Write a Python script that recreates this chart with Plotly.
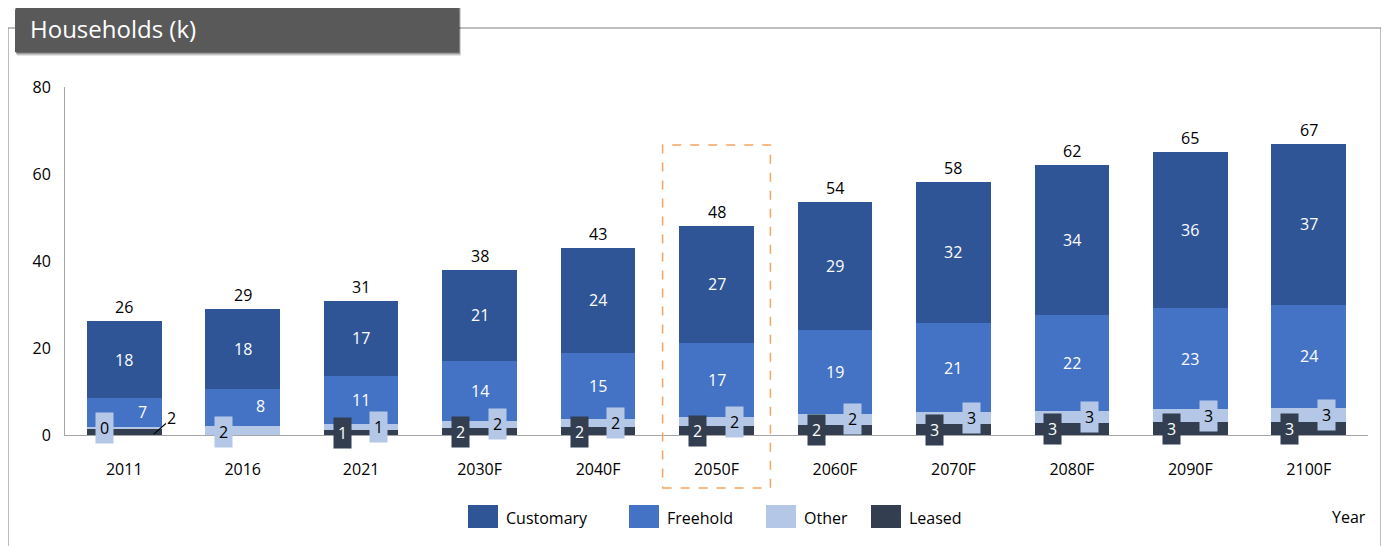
import plotly.graph_objects as go

categories = ["2011", "2016", "2021", "2030F", "2040F", "2050F", "2060F", "2070F", "2080F", "2090F", "2100F"]
leased    = [1.5, 0.0, 1.2, 1.6, 1.8, 2.0, 2.4, 2.6, 2.8, 2.9, 3.0]
other     = [0.3, 2.1, 1.3, 1.7, 1.9, 2.2, 2.4, 2.6, 2.8, 3.0, 3.1]
freehold  = [6.6, 8.4, 11.0, 13.8, 15.2, 17.0, 19.4, 20.6, 22.0, 23.2, 23.9]
customary = [17.7, 18.4, 17.4, 20.8, 24.2, 26.8, 29.4, 32.4, 34.4, 35.9, 36.9]
yticks = [0, 20, 40, 60, 80]
highlight = "2050F"

C_CUST = "#2f5597"
C_FREE = "#4472c4"
C_OTH = "#b4c7e7"
C_LEAS = "#333f50"
FONT = "Open Sans"

OFF = 8  # page body margin
W, H = 1389 - OFF, 546 - OFF
L, R, T, B = 65 - OFF, 1368 - OFF, 87 - OFF, 435 - OFF
def px(x): return (x - OFF - L) / (R - L)
def py(y): return (B - (y - OFF)) / (B - T)

fig = go.Figure()
for name, vals, col in [("Leased", leased, C_LEAS), ("Other", other, C_OTH),
                        ("Freehold", freehold, C_FREE), ("Customary", customary, C_CUST)]:
    fig.add_trace(go.Bar(x=categories, y=vals, name=name, marker=dict(color=col, line=dict(width=0)),
                         width=0.63, showlegend=False, hoverinfo="skip"))

ann = []
n = len(categories)
for i, c in enumerate(categories):
    lb = leased[i]
    ob = lb + other[i]
    fb = ob + freehold[i]
    tot = fb + customary[i]
    ann.append(dict(x=i, y=tot, text=f"{tot:.0f}", showarrow=False, yanchor="bottom", yshift=1,
                    font=dict(size=16, color="#000000")))
    ann.append(dict(x=i, y=(fb + tot) / 2, text=f"{customary[i]:.0f}", showarrow=False,
                    font=dict(size=16, color="white")))
    fx = i + 0.15 if i < 2 else i
    ann.append(dict(x=fx, y=(ob + fb) / 2 + (0.3 if i < 2 else 0), text=f"{freehold[i]:.0f}", showarrow=False,
                    font=dict(size=16, color="white")))
    if i == 0:
        ann.append(dict(x=i - 0.17, y=1.6, text=f"{other[i]:.0f}", showarrow=False, bgcolor=C_OTH,
                        borderpad=4, font=dict(size=16, color="#000000")))
        ann.append(dict(x=i + 0.25, y=0.2, text=f"{lb:.0f}", showarrow=True, arrowhead=0, arrowwidth=1.2,
                        arrowcolor="#000000", ax=18, ay=-16, font=dict(size=16, color="#000000")))
        continue
    if i == 1:
        ann.append(dict(x=i - 0.16, y=0.7, text=f"{other[i]:.0f}", showarrow=False, bgcolor=C_OTH,
                        borderpad=4, font=dict(size=16, color="#000000")))
        continue
    ann.append(dict(x=i - 0.16, y=lb / 2 - 0.1, text=f"{lb:.0f}", showarrow=False, bgcolor=C_LEAS,
                    borderpad=4, font=dict(size=16, color="white")))
    ann.append(dict(x=i + 0.15, y=(lb + ob) / 2, text=f"{other[i]:.0f}", showarrow=False, bgcolor=C_OTH,
                    borderpad=4, font=dict(size=16, color="#000000")))

ann.append(dict(xref="paper", yref="paper", x=px(28), y=py(29), text="Households (k)", showarrow=False,
                xanchor="left", yanchor="middle", font=dict(size=24, color="white")))
ann.append(dict(xref="paper", yref="paper", x=px(1349), y=py(517), text="Year", showarrow=False,
                xanchor="center", yanchor="middle", font=dict(size=16, color="#000000")))

shapes = []
shapes.append(dict(type="rect", xref="paper", yref="paper", x0=px(8), x1=px(1381), y0=py(560), y1=py(28),
                   line=dict(color="#7f7f7f", width=1), fillcolor="rgba(0,0,0,0)", layer="below"))
for k, a in [(4, 0.10), (3, 0.15), (2, 0.2), (1, 0.3)]:
    shapes.append(dict(type="rect", xref="paper", yref="paper", x0=px(15 + k / 2), x1=px(459 + k / 2),
                       y0=py(52 + k), y1=py(8), line=dict(width=0), fillcolor=f"rgba(0,0,0,{a})"))
x0, x1, y0, y1, r = 15, 459, 5, 52, 7
path = (f"M {px(x0)},{py(y1)} L {px(x0)},{py(y0 + r)} Q {px(x0)},{py(y0)} {px(x0 + r)},{py(y0)} "
        f"L {px(x1 - r)},{py(y0)} Q {px(x1)},{py(y0)} {px(x1)},{py(y0 + r)} L {px(x1)},{py(y1)} Z")
shapes.append(dict(type="path", xref="paper", yref="paper", path=path, fillcolor="#595959", line=dict(width=0)))
hi = categories.index(highlight)
shapes.append(dict(type="rect", xref="x", yref="paper", x0=hi - 0.455, x1=hi + 0.455, y0=py(488), y1=py(145),
                   line=dict(color="#f4a460", width=1.5, dash="dash"), fillcolor="rgba(0,0,0,0)"))

legend_items = [("Customary", C_CUST, 468), ("Freehold", C_FREE, 629), ("Other", C_OTH, 766), ("Leased", C_LEAS, 871)]
for name, col, lx in legend_items:
    shapes.append(dict(type="rect", xref="paper", yref="paper", x0=px(lx), x1=px(lx + 30), y0=py(528), y1=py(505),
                       fillcolor=col, line=dict(width=0)))
    ann.append(dict(xref="paper", yref="paper", x=px(lx + 36), y=py(518), text=name, showarrow=False,
                    xanchor="left", yanchor="middle", font=dict(size=16, color="#000000")))

fig.update_layout(
    width=W, height=H,
    margin=dict(l=L, r=W - R, t=T, b=H - B),
    barmode="stack", bargap=0.37,
    plot_bgcolor="white", paper_bgcolor="white",
    font=dict(family=FONT, size=16, color="#000000"),
    annotations=ann, shapes=shapes,
    xaxis=dict(type="category", range=[-0.5, n - 0.5], showgrid=False, showline=True, linecolor="#a6a6a6",
               linewidth=1, ticks="", ticklabelstandoff=20, tickfont=dict(size=16), fixedrange=True),
    yaxis=dict(range=[0, 80], tickvals=yticks, showgrid=False, showline=True, linecolor="#a6a6a6",
               linewidth=1, ticks="", ticklabelstandoff=10, zeroline=False, tickfont=dict(size=16)),
)

fig.write_html("out.html")
